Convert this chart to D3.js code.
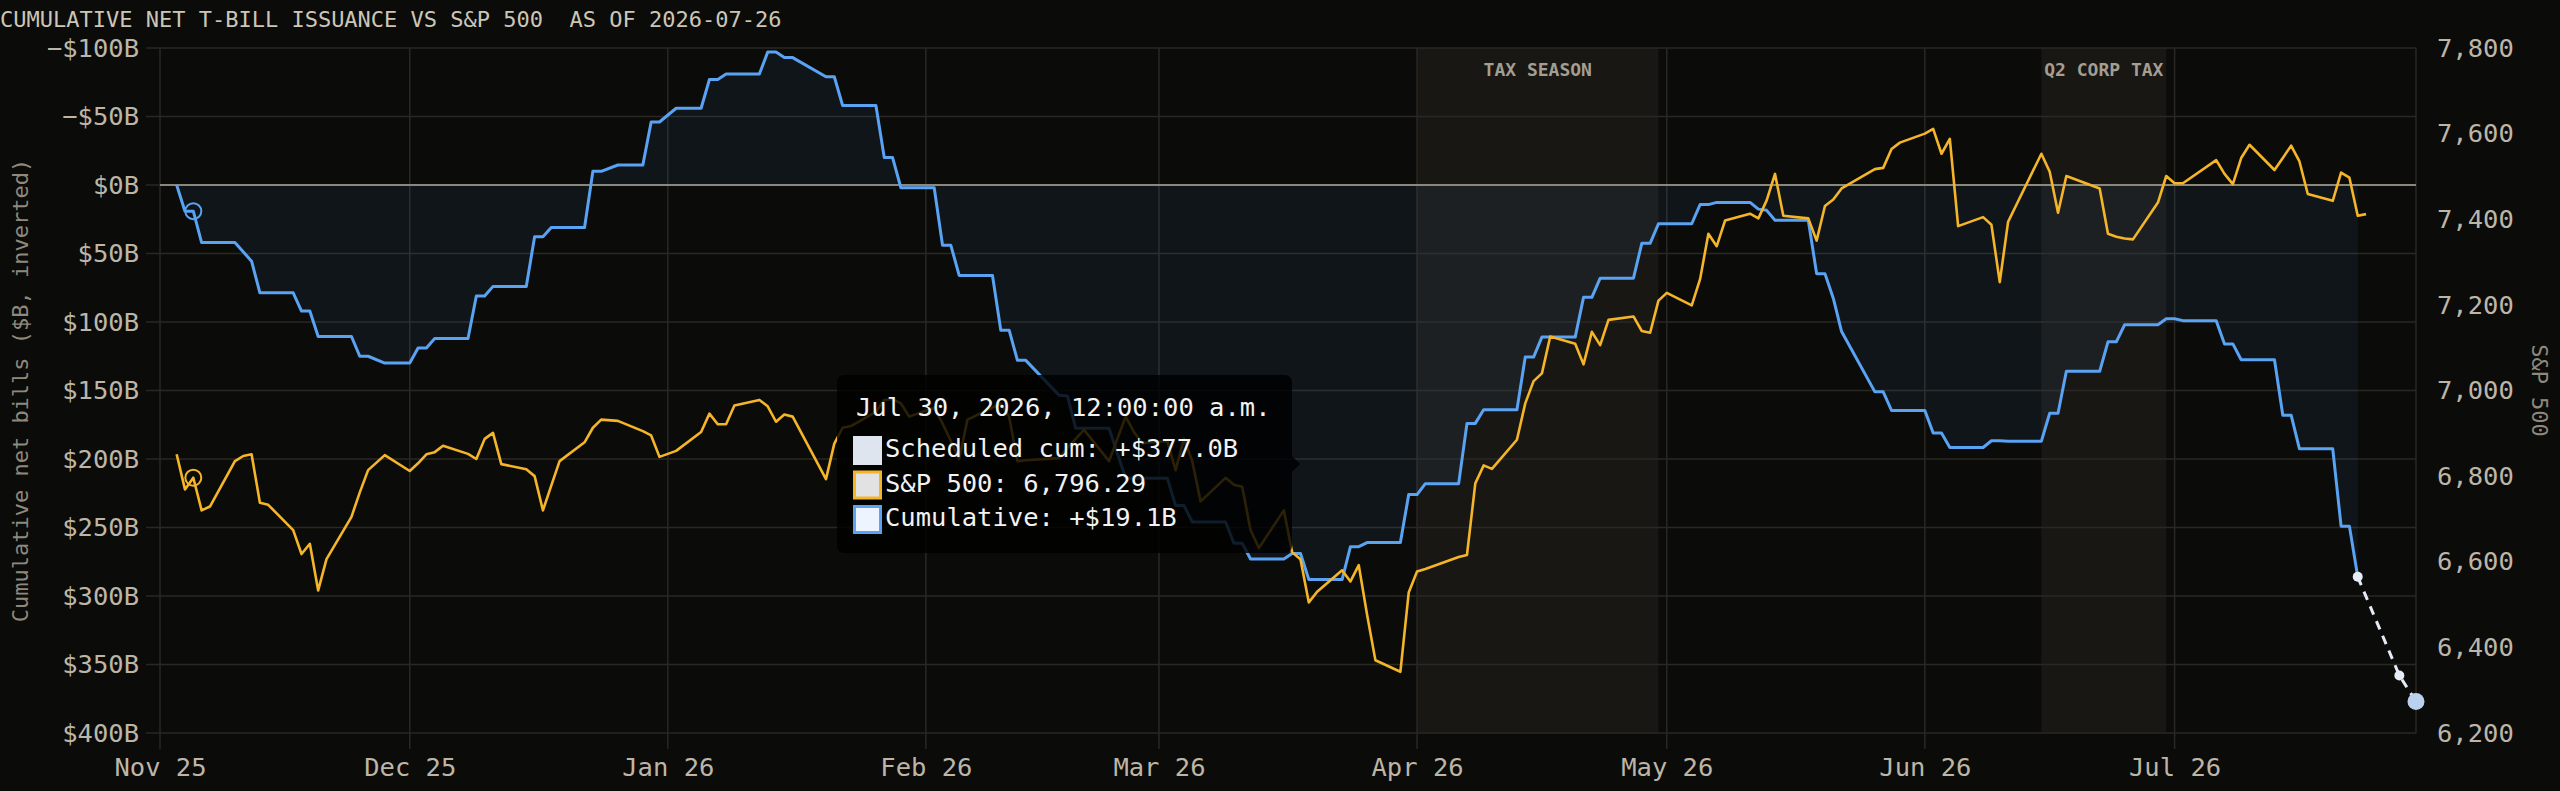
<!DOCTYPE html>
<html>
<head>
<meta charset="utf-8">
<script src="https://cdn.jsdelivr.net/npm/d3@7"></script>
<style>
  html, body { margin: 0; padding: 0; background: #0b0b0a; overflow: hidden; }
  svg { display: block; font-family: "DejaVu Sans Mono", "Liberation Mono", monospace; }
</style>
</head>
<body>
<svg id="chart" width="2560" height="791"></svg>
<script>
// ---- data ----
var titleText = "CUMULATIVE NET T-BILL ISSUANCE VS S&P 500  AS OF 2026-07-26";

// cumulative net bill issuance, $B (plotted inverted)
var cumDates = [
  "2025-11-03","2025-11-04","2025-11-05","2025-11-06","2025-11-10","2025-11-12","2025-11-13","2025-11-17",
  "2025-11-18","2025-11-19","2025-11-20","2025-11-24","2025-11-25","2025-11-26","2025-11-28","2025-12-01",
  "2025-12-02","2025-12-03","2025-12-04","2025-12-08","2025-12-09","2025-12-10","2025-12-11","2025-12-15",
  "2025-12-16","2025-12-17","2025-12-18","2025-12-22","2025-12-23","2025-12-24","2025-12-26","2025-12-29",
  "2025-12-30","2025-12-31","2026-01-02","2026-01-05","2026-01-06","2026-01-07","2026-01-08","2026-01-12",
  "2026-01-13","2026-01-14","2026-01-15","2026-01-16","2026-01-20","2026-01-21","2026-01-22","2026-01-26",
  "2026-01-27","2026-01-28","2026-01-29","2026-02-02","2026-02-03","2026-02-04","2026-02-05","2026-02-09",
  "2026-02-10","2026-02-11","2026-02-12","2026-02-13","2026-02-17","2026-02-18","2026-02-19","2026-02-23",
  "2026-02-24","2026-02-25","2026-03-02","2026-03-03","2026-03-04","2026-03-05","2026-03-09","2026-03-10",
  "2026-03-11","2026-03-12","2026-03-16","2026-03-17","2026-03-18","2026-03-19","2026-03-23","2026-03-24",
  "2026-03-25","2026-03-26","2026-03-30","2026-03-31","2026-04-01","2026-04-02","2026-04-06","2026-04-07",
  "2026-04-08","2026-04-09","2026-04-13","2026-04-14","2026-04-15","2026-04-16","2026-04-20","2026-04-21",
  "2026-04-22","2026-04-23","2026-04-27","2026-04-28","2026-04-29","2026-04-30","2026-05-04","2026-05-05",
  "2026-05-06","2026-05-07","2026-05-11","2026-05-12","2026-05-13","2026-05-14","2026-05-18","2026-05-19",
  "2026-05-20","2026-05-21","2026-05-22","2026-05-26","2026-05-27","2026-05-28","2026-06-01","2026-06-02",
  "2026-06-03","2026-06-04","2026-06-08","2026-06-09","2026-06-10","2026-06-11","2026-06-15","2026-06-16",
  "2026-06-17","2026-06-18","2026-06-22","2026-06-23","2026-06-24","2026-06-25","2026-06-29","2026-06-30",
  "2026-07-01","2026-07-02","2026-07-06","2026-07-07","2026-07-08","2026-07-09","2026-07-13","2026-07-14",
  "2026-07-15","2026-07-16","2026-07-20","2026-07-21","2026-07-22","2026-07-23"
];
var cumValues = [
  0, 19.2, 19.1, 42, 42, 55.6, 78.7, 78.7,
  92, 92, 110.6, 110.6, 125, 125, 130, 130,
  119, 119, 112, 112, 81, 81, 74, 74,
  37.7, 37.7, 31, 31, -10, -10, -14.6, -14.6,
  -46, -46, -56, -56, -77, -77, -81, -81,
  -97, -97, -93, -93, -79, -79, -58, -58,
  -20, -20, 2, 2, 44, 44, 66, 66,
  106, 106, 128, 128, 153.5, 154, 177.6, 177.6,
  196, 214, 214, 234, 234, 246, 246, 261.5,
  261.5, 273, 273, 269, 269, 288, 288, 264,
  264, 261, 261, 226, 226, 218, 218, 174,
  174, 164, 164, 125.6, 125.6, 111, 111, 82,
  82, 68, 68, 42.6, 42.6, 28.3, 28.3, 14.3,
  14.3, 12.7, 12.7, 17.6, 18.5, 25.7, 25.7, 64.7,
  64.7, 82.6, 107, 151, 151, 164.6, 164.6, 181,
  181, 191.6, 191.6, 186.7, 186.7, 187, 187, 166.6,
  166.6, 136, 136, 114.5, 114.5, 102, 102, 97.6,
  97.6, 99, 99, 116, 116, 127.5, 127.5, 168,
  168, 192.6, 192.6, 249, 249, 286
];

// S&P 500 closes
var spDates = [
  "2025-11-03","2025-11-04","2025-11-05","2025-11-06","2025-11-07","2025-11-10","2025-11-11","2025-11-12",
  "2025-11-13","2025-11-14","2025-11-17","2025-11-18","2025-11-19","2025-11-20","2025-11-21","2025-11-24",
  "2025-11-25","2025-11-26","2025-11-28","2025-12-01","2025-12-02","2025-12-03","2025-12-04","2025-12-05",
  "2025-12-08","2025-12-09","2025-12-10","2025-12-11","2025-12-12","2025-12-15","2025-12-16","2025-12-17",
  "2025-12-18","2025-12-19","2025-12-22","2025-12-23","2025-12-24","2025-12-26","2025-12-29","2025-12-30",
  "2025-12-31","2026-01-02","2026-01-05","2026-01-06","2026-01-07","2026-01-08","2026-01-09","2026-01-12",
  "2026-01-13","2026-01-14","2026-01-15","2026-01-16","2026-01-20","2026-01-21","2026-01-22","2026-01-23",
  "2026-01-26","2026-01-27","2026-01-28","2026-01-29","2026-01-30","2026-02-02","2026-02-03","2026-02-04",
  "2026-02-05","2026-02-06","2026-02-09","2026-02-10","2026-02-11","2026-02-12","2026-02-13","2026-02-17",
  "2026-02-18","2026-02-19","2026-02-20","2026-02-23","2026-02-24","2026-02-25","2026-02-26","2026-02-27",
  "2026-03-02","2026-03-03","2026-03-04","2026-03-05","2026-03-06","2026-03-09","2026-03-10","2026-03-11",
  "2026-03-12","2026-03-13","2026-03-16","2026-03-17","2026-03-18","2026-03-19","2026-03-20","2026-03-23",
  "2026-03-24","2026-03-25","2026-03-26","2026-03-27","2026-03-30","2026-03-31","2026-04-01","2026-04-02",
  "2026-04-06","2026-04-07","2026-04-08","2026-04-09","2026-04-10","2026-04-13","2026-04-14","2026-04-15",
  "2026-04-16","2026-04-17","2026-04-20","2026-04-21","2026-04-22","2026-04-23","2026-04-24","2026-04-27",
  "2026-04-28","2026-04-29","2026-04-30","2026-05-01","2026-05-04","2026-05-05","2026-05-06","2026-05-07",
  "2026-05-08","2026-05-11","2026-05-12","2026-05-13","2026-05-14","2026-05-15","2026-05-18","2026-05-19",
  "2026-05-20","2026-05-21","2026-05-22","2026-05-26","2026-05-27","2026-05-28","2026-05-29","2026-06-01",
  "2026-06-02","2026-06-03","2026-06-04","2026-06-05","2026-06-08","2026-06-09","2026-06-10","2026-06-11",
  "2026-06-12","2026-06-15","2026-06-16","2026-06-17","2026-06-18","2026-06-22","2026-06-23","2026-06-24",
  "2026-06-25","2026-06-26","2026-06-29","2026-06-30","2026-07-01","2026-07-02","2026-07-06","2026-07-07",
  "2026-07-08","2026-07-09","2026-07-10","2026-07-13","2026-07-14","2026-07-15","2026-07-16","2026-07-17",
  "2026-07-20","2026-07-21","2026-07-22","2026-07-23","2026-07-24"
];
var spValues = [
  6851, 6769, 6796.29, 6720, 6729, 6835, 6847, 6851,
  6738, 6733, 6674, 6618, 6642, 6533, 6606, 6705,
  6762, 6814, 6849, 6812, 6830, 6851, 6856, 6871,
  6852, 6840, 6887, 6901, 6828, 6816, 6800, 6720,
  6778, 6835, 6879, 6913, 6932, 6929, 6905, 6895,
  6845, 6859, 6903, 6946, 6921, 6921, 6965, 6978,
  6963, 6927, 6944, 6939, 6793, 6876, 6913, 6917,
  6950, 6978, 6980, 6970, 6939, 6960, 6923, 6882,
  6840, 6932, 6960, 6970, 6939, 6835, 6837, 6842,
  6866, 6887, 6908, 6835, 6887, 6939, 6903, 6877,
  6882, 6814, 6887, 6835, 6741, 6796, 6780, 6775,
  6674, 6632, 6720, 6622, 6606, 6505, 6530, 6580,
  6554, 6592, 6476, 6370, 6343, 6528, 6577, 6583,
  6611, 6616, 6783, 6825, 6817, 6885, 6970, 7022,
  7040, 7126, 7109, 7061, 7137, 7106, 7165, 7173,
  7139, 7135, 7210, 7228, 7199, 7260, 7366, 7337,
  7397, 7413, 7402, 7444, 7506, 7408, 7402, 7350,
  7431, 7446, 7472, 7517, 7520, 7564, 7579, 7600,
  7611, 7553, 7588, 7384, 7405, 7387, 7253, 7394,
  7434, 7553, 7511, 7415, 7501, 7472, 7366, 7359,
  7355, 7353, 7439, 7501, 7484, 7484, 7538, 7506,
  7482, 7543, 7574, 7515, 7543, 7572, 7535, 7459,
  7443, 7509, 7497, 7408, 7412
];

// scheduled (projected) cumulative issuance
var projDates = ["2026-07-23", "2026-07-28", "2026-07-30"];
var projValues = [286, 358, 377.0];

// shaded periods
var shadeStarts = ["2026-04-01", "2026-06-15"];
var shadeEnds = ["2026-04-30", "2026-06-30"];
var shadeLabels = ["TAX SEASON", "Q2 CORP TAX"];

// axes
var leftTicks = [-100, -50, 0, 50, 100, 150, 200, 250, 300, 350, 400];
var rightTicks = [6200, 6400, 6600, 6800, 7000, 7200, 7400, 7600, 7800];
var monthTicks = ["2025-11-01","2025-12-01","2026-01-01","2026-02-01","2026-03-01",
                  "2026-04-01","2026-05-01","2026-06-01","2026-07-01"];
var xStart = "2025-11-01", xEnd = "2026-07-30";

// hovered point shown in the tooltip
var hoverIndex = 2;

// ---- drawing ----
function drawChart() {
	var parse = d3.timeParse("%Y-%m-%d");
	var W = 2560, H = 791;
	var m = { left: 160, right: 2416, top: 48, bottom: 733 };
	var FONT = 25.5;

	var svg = d3.select("#chart");

	var x = d3.scaleTime().domain([parse(xStart), parse(xEnd)]).range([m.left, m.right]);
	var yL = d3.scaleLinear().domain([-100, 400]).range([m.top, m.bottom]);  // inverted
	var yR = d3.scaleLinear().domain([6200, 7800]).range([m.bottom, m.top]);

	var cum = cumDates.map(function(d, i) { return { date: parse(d), v: cumValues[i] }; });
	var sp = spDates.map(function(d, i) { return { date: parse(d), v: spValues[i] }; });
	var proj = projDates.map(function(d, i) { return { date: parse(d), v: projValues[i] }; });

	svg.append("rect").attr("width", W).attr("height", H).attr("fill", "#0b0b0a");

	// title
	svg.append("text")
		.attr("x", 0).attr("y", 27)
		.attr("font-size", 22)
		.attr("fill", "#cdc6b6")
		.style("white-space", "pre")
		.text(titleText);

	// shaded periods
	var shadeG = svg.append("g");
	shadeStarts.forEach(function(s, i) {
		var x0 = x(parse(s)), x1 = x(parse(shadeEnds[i]));
		shadeG.append("rect")
			.attr("x", x0).attr("y", m.top)
			.attr("width", x1 - x0).attr("height", m.bottom - m.top)
			.attr("fill", "rgba(255,240,200,0.055)");
	});

	// grid
	var gridG = svg.append("g").attr("stroke", "#2a2823").attr("stroke-width", 1.5);
	gridG.selectAll("line.h").data(leftTicks).enter().append("line")
		.attr("class", "h")
		.attr("x1", m.left - 14).attr("x2", m.right)
		.attr("y1", function(d) { return yL(d); })
		.attr("y2", function(d) { return yL(d); });
	gridG.selectAll("line.v").data(monthTicks).enter().append("line")
		.attr("class", "v")
		.attr("x1", function(d) { return x(parse(d)); })
		.attr("x2", function(d) { return x(parse(d)); })
		.attr("y1", m.top).attr("y2", m.bottom + 16);
	gridG.append("line")
		.attr("x1", m.right).attr("x2", m.right)
		.attr("y1", m.top).attr("y2", m.bottom);

	// zero line
	svg.append("line")
		.attr("x1", m.left).attr("x2", m.right)
		.attr("y1", yL(0)).attr("y2", yL(0))
		.attr("stroke", "#8c877b").attr("stroke-width", 2);

	// shade labels
	shadeStarts.forEach(function(s, i) {
		var mid = new Date((parse(s).getTime() + parse(shadeEnds[i]).getTime()) / 2);
		svg.append("text")
			.attr("x", x(mid)).attr("y", 76)
			.attr("text-anchor", "middle")
			.attr("font-size", 18).attr("font-weight", "bold")
			.attr("fill", "#a49e91")
			.text(shadeLabels[i]);
	});

	// cumulative area + line
	var area = d3.area()
		.x(function(d) { return x(d.date); })
		.y0(yL(0))
		.y1(function(d) { return yL(d.v); });
	svg.append("path").datum(cum)
		.attr("d", area)
		.attr("fill", "rgba(90,150,240,0.07)");

	var cumLine = d3.line()
		.x(function(d) { return x(d.date); })
		.y(function(d) { return yL(d.v); });
	svg.append("path").datum(cum)
		.attr("d", cumLine)
		.attr("fill", "none")
		.attr("stroke", "#5aa2f2").attr("stroke-width", 3)
		.attr("stroke-linejoin", "round");

	// S&P line
	var spLine = d3.line()
		.x(function(d) { return x(d.date); })
		.y(function(d) { return yR(d.v); });
	svg.append("path").datum(sp)
		.attr("d", spLine)
		.attr("fill", "none")
		.attr("stroke", "#f4b528").attr("stroke-width", 2.6)
		.attr("stroke-linejoin", "round");

	// projection
	svg.append("path").datum(proj)
		.attr("d", cumLine)
		.attr("fill", "none")
		.attr("stroke", "#e4ebf5").attr("stroke-width", 3)
		.attr("stroke-dasharray", "9,7");
	svg.selectAll("circle.proj").data(proj).enter().append("circle")
		.attr("class", "proj")
		.attr("cx", function(d) { return x(d.date); })
		.attr("cy", function(d) { return yL(d.v); })
		.attr("r", function(d, i) { return i === proj.length - 1 ? 8.5 : 5; })
		.attr("fill", function(d, i) { return i === proj.length - 1 ? "#b9d0ee" : "#e6edf6"; });

	// hover rings
	var hc = cum[hoverIndex], hs = sp[hoverIndex];
	svg.append("circle")
		.attr("cx", x(hc.date)).attr("cy", yL(hc.v)).attr("r", 8)
		.attr("fill", "none").attr("stroke", "#5aa2f2").attr("stroke-width", 2);
	svg.append("circle")
		.attr("cx", x(hs.date)).attr("cy", yR(hs.v)).attr("r", 8)
		.attr("fill", "none").attr("stroke", "#f4b528").attr("stroke-width", 2);

	// axes
	var tickColor = "#bdb6a7";
	var fmtB = function(v) { return (v < 0 ? "\u2212" : "") + "$" + Math.abs(v) + "B"; };

	var axL = svg.append("g").attr("transform", "translate(" + m.left + ",0)")
		.call(d3.axisLeft(yL).tickValues(leftTicks).tickSize(14).tickPadding(7).tickFormat(fmtB));
	var axR = svg.append("g").attr("transform", "translate(" + m.right + ",0)")
		.call(d3.axisRight(yR).tickValues(rightTicks).tickSize(0).tickPadding(21).tickFormat(d3.format(",")));
	var axB = svg.append("g").attr("transform", "translate(0," + m.bottom + ")")
		.call(d3.axisBottom(x).tickValues(monthTicks.map(parse)).tickSize(16).tickFormat(d3.timeFormat("%b %y")));

	[axL, axR, axB].forEach(function(ax) {
		ax.select(".domain").remove();
		ax.selectAll(".tick line").remove();
		ax.selectAll("text")
			.attr("fill", tickColor)
			.attr("font-size", FONT)
			.attr("font-family", "DejaVu Sans Mono");
	});
	axB.selectAll("text").attr("y", 43).attr("dy", 0);

	// axis titles
	var midY = (m.top + m.bottom) / 2;
	svg.append("text")
		.attr("transform", "translate(28," + midY + ") rotate(-90)")
		.attr("text-anchor", "middle")
		.attr("font-size", 22)
		.attr("fill", "#8f897c")
		.text("Cumulative net bills ($B, inverted)");
	svg.append("text")
		.attr("transform", "translate(2532," + midY + ") rotate(90)")
		.attr("text-anchor", "middle")
		.attr("font-size", 22)
		.attr("fill", "#8f897c")
		.text("S&P 500");

	// tooltip
	var last = proj[proj.length - 1];
	var fmtSigned = function(v) { return (v >= 0 ? "+" : "\u2212") + "$" + d3.format(".1f")(Math.abs(v)) + "B"; };
	var tipRows = [
		{ label: "Scheduled cum: " + fmtSigned(last.v), fill: "#dfe5ee", stroke: "#dfe5ee" },
		{ label: "S&P 500: " + d3.format(",.2f")(hs.v), fill: "#e2e2e2", stroke: "#f4b528" },
		{ label: "Cumulative: " + fmtSigned(hc.v), fill: "#eef4fd", stroke: "#5aa2f2" }
	];
	var tipX = 837, tipY = 375, tipW = 455, tipH = 178;
	var tip = svg.append("g");
	tip.append("rect")
		.attr("x", tipX).attr("y", tipY).attr("width", tipW).attr("height", tipH)
		.attr("rx", 7).attr("fill", "rgba(0,0,0,0.82)");
	var caretY = tipY + 89;
	tip.append("path")
		.attr("d", "M" + (tipX + tipW) + "," + (caretY - 8) + "L" + (tipX + tipW + 8) + "," + caretY +
			"L" + (tipX + tipW) + "," + (caretY + 8) + "Z")
		.attr("fill", "rgba(0,0,0,0.82)");
	tip.append("text")
		.attr("x", tipX + 19).attr("y", tipY + 41)
		.attr("font-size", FONT).attr("fill", "#f2f2f2")
		.text(d3.timeFormat("%b %-d, %Y")(last.date) + ", 12:00:00 a.m.");
	tipRows.forEach(function(r, i) {
		var by = tipY + 82 + i * 34.5;
		tip.append("rect")
			.attr("x", tipX + 17.5).attr("y", by - 19.5)
			.attr("width", 26).attr("height", 26)
			.attr("fill", r.fill).attr("stroke", r.stroke).attr("stroke-width", 3);
		tip.append("text")
			.attr("x", tipX + 48).attr("y", by)
			.attr("font-size", FONT).attr("fill", "#f2f2f2")
			.text(r.label);
	});
}

drawChart();
</script>
</body>
</html>
